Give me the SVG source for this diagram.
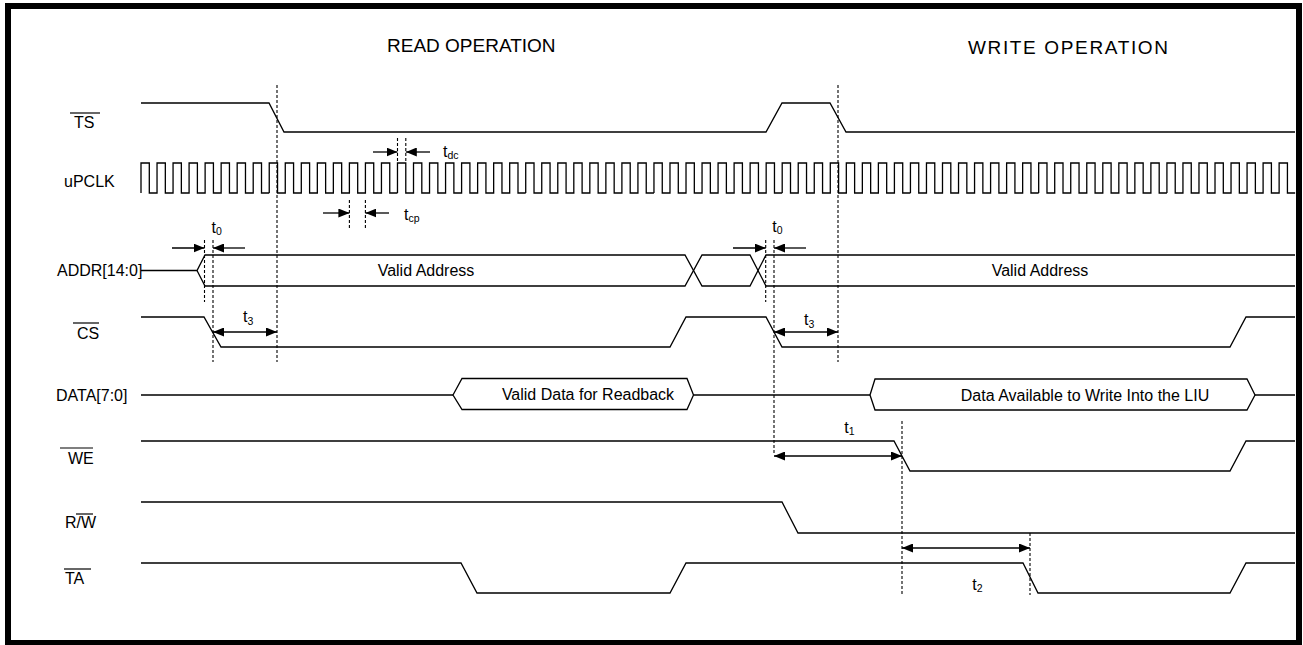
<svg xmlns="http://www.w3.org/2000/svg" xmlns:xlink="http://www.w3.org/1999/xlink" width="1303" height="645" viewBox="0 0 1303 645">
<style>
.sig{fill:none;stroke:#000;stroke-width:1.3;stroke-linejoin:miter}
.bus{fill:#fff;stroke:#000;stroke-width:1.3}
.dash{fill:none;stroke:#000;stroke-width:1.1;stroke-dasharray:3 2}
.dim{fill:none;stroke:#000;stroke-width:1.3}
.one{marker-end:url(#ah)}
.two{marker-start:url(#ah);marker-end:url(#ah)}
text{font-family:"Liberation Sans",Arial,Helvetica,sans-serif;fill:#000}
.lbl{font-size:16px}
.ttl{font-size:19px}
.sub{font-size:10.5px}
.ovl{stroke:#000;stroke-width:1.2}
</style>
<defs>
<marker id="ah" viewBox="0 0 11 9" refX="11" refY="4.5" markerWidth="11" markerHeight="9" markerUnits="userSpaceOnUse" orient="auto-start-reverse">
<path d="M0,0L11,4.5L0,9z" fill="#000"/>
</marker>
<path id="ck8" class="sig" d="M0,0v-30h8.3v30h7.73v-30h8.3v30h7.73v-30h8.3v30h7.73v-30h8.3v30h7.73v-30h8.3v30h7.73v-30h8.3v30h7.73v-30h8.3v30h7.73v-30h8.3v30h7.73"/>
</defs>
<rect x="8" y="6" width="1291" height="637" fill="#fff" stroke="#000" stroke-width="6"/>
<g id="titles">
<text class="ttl" x="387" y="52">READ OPERATION</text>
<text class="ttl" x="968" y="54" textLength="200" lengthAdjust="spacing">WRITE OPERATION</text>
</g>
<g id="labels">
<g id="lbl-ts"><text class="lbl" x="74" y="128">TS</text><line class="ovl" x1="70" y1="113" x2="100" y2="113"/></g>
<g id="lbl-clk"><text class="lbl" x="64" y="187">uPCLK</text></g>
<g id="lbl-addr"><text class="lbl" x="57" y="276">ADDR[14:0]</text></g>
<g id="lbl-cs"><text class="lbl" x="77" y="339">CS</text><line class="ovl" x1="73" y1="323" x2="99" y2="323"/></g>
<g id="lbl-data"><text class="lbl" x="56" y="401">DATA[7:0]</text></g>
<g id="lbl-we"><text class="lbl" x="68" y="464">WE</text><line class="ovl" x1="60" y1="448" x2="93" y2="448"/></g>
<g id="lbl-rw"><text class="lbl" x="65" y="528">R/W</text><line class="ovl" x1="76" y1="514" x2="93" y2="514"/></g>
<g id="lbl-ta"><text class="lbl" x="65" y="584">TA</text><line class="ovl" x1="64" y1="569" x2="91" y2="569"/></g>
</g>
<g id="sig-ts"><path class="sig" d="M141,103H269L284,132H766L782,103H830L846,132H1295"/></g>
<g id="sig-clk">
<use xlink:href="#ck8" x="141" y="193"/>
<use xlink:href="#ck8" x="269.24" y="193"/>
<use xlink:href="#ck8" x="397.48" y="193"/>
<use xlink:href="#ck8" x="525.72" y="193"/>
<use xlink:href="#ck8" x="653.96" y="193"/>
<use xlink:href="#ck8" x="782.2" y="193"/>
<use xlink:href="#ck8" x="910.44" y="193"/>
<use xlink:href="#ck8" x="1038.68" y="193"/>
<use xlink:href="#ck8" x="1166.92" y="193"/>
</g>
<g id="sig-addr">
<path class="sig" d="M141,270.5H197L205,255H685L702,286H750L766,255H1295"/>
<path class="sig" d="M197,270.5L205,286H685L702,255H750L766,286H1295"/>
<text class="lbl" x="426" y="276" text-anchor="middle">Valid Address</text>
<text class="lbl" x="1040" y="276" text-anchor="middle">Valid Address</text>
</g>
<g id="sig-cs"><path class="sig" d="M141,317H204L221,347H670L686,317H766L782,347H1230L1246,317H1295"/></g>
<g id="sig-data">
<path class="sig" d="M141,395H453M693.5,395H870M1255,395H1295"/>
<polygon class="bus" points="453,395 462,378.5 687,378.5 693.5,395 687,409.5 462,409.5"/>
<polygon class="bus" points="870,395 875,379 1247,379 1255,395 1247,410 875,410"/>
<text class="lbl" x="588" y="400" text-anchor="middle">Valid Data for Readback</text>
<text class="lbl" x="1085" y="401" text-anchor="middle">Data Available to Write Into the LIU</text>
</g>
<g id="sig-we"><path class="sig" d="M141,441H894L910,471H1230L1246,441H1295"/></g>
<g id="sig-rw"><path class="sig" d="M141,502H782L798,533H1295"/></g>
<g id="sig-ta"><path class="sig" d="M141,563H461L477,593H670L686,563H1023L1038,593H1230L1246,563H1295"/></g>
<g id="connectors">
<line class="dash" x1="204.5" y1="240" x2="204.5" y2="302"/>
<line class="dash" x1="213" y1="240" x2="213" y2="362"/>
<line class="dash" x1="277" y1="85" x2="277" y2="362"/>
<line class="dash" x1="349.4" y1="200" x2="349.4" y2="228"/>
<line class="dash" x1="365.4" y1="200" x2="365.4" y2="228"/>
<line class="dash" x1="397.5" y1="138" x2="397.5" y2="162"/>
<line class="dash" x1="405.8" y1="138" x2="405.8" y2="162"/>
<line class="dash" x1="765.7" y1="240" x2="765.7" y2="302"/>
<line class="dash" x1="774" y1="240" x2="774" y2="455"/>
<line class="dash" x1="838" y1="85" x2="838" y2="362"/>
<line class="dash" x1="902" y1="421" x2="902" y2="595"/>
<line class="dash" x1="1030" y1="533" x2="1030" y2="595"/>
<line class="dim one" x1="172" y1="248" x2="204.5" y2="248"/>
<line class="dim one" x1="245" y1="248" x2="213" y2="248"/>
<line class="dim one" x1="733" y1="248" x2="765.7" y2="248"/>
<line class="dim one" x1="806" y1="248" x2="774" y2="248"/>
<line class="dim one" x1="373" y1="152" x2="397.5" y2="152"/>
<line class="dim one" x1="430" y1="152" x2="405.8" y2="152"/>
<line class="dim one" x1="323" y1="213" x2="349.4" y2="213"/>
<line class="dim one" x1="389" y1="213" x2="365.4" y2="213"/>
<line class="dim two" x1="213" y1="332" x2="277" y2="332"/>
<line class="dim two" x1="774" y1="332" x2="838" y2="332"/>
<line class="dim two" x1="774" y1="456" x2="902" y2="456"/>
<line class="dim two" x1="902" y1="548" x2="1030" y2="548"/>
</g>
<g id="timing-labels">
<text class="lbl" x="211.5" y="233">t<tspan class="sub" dy="2">0</tspan></text>
<text class="lbl" x="772.3" y="232">t<tspan class="sub" dy="2">0</tspan></text>
<text class="lbl" x="243" y="322">t<tspan class="sub" dy="3">3</tspan></text>
<text class="lbl" x="804" y="325">t<tspan class="sub" dy="3">3</tspan></text>
<text class="lbl" x="443" y="157">t<tspan class="sub" dy="2">dc</tspan></text>
<text class="lbl" x="404" y="220">t<tspan class="sub" dy="2">cp</tspan></text>
<text class="lbl" x="844.3" y="433">t<tspan class="sub" dy="1.5">1</tspan></text>
<text class="lbl" x="972.3" y="590">t<tspan class="sub" dy="2">2</tspan></text>
</g>
</svg>
